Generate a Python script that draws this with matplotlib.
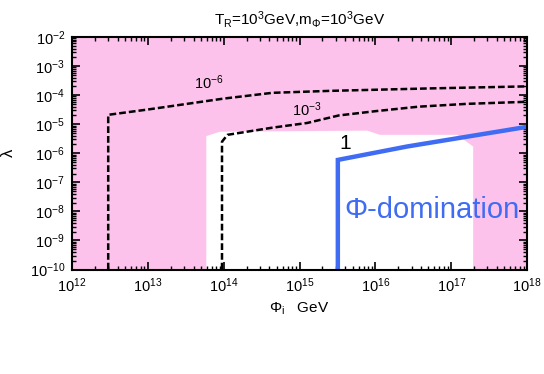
import numpy as np
import matplotlib
matplotlib.use('Agg')
import matplotlib.pyplot as plt
from matplotlib.ticker import LogLocator, FixedLocator, NullFormatter

plt.rcParams['font.family'] = ['Liberation Sans', 'DejaVu Sans']
plt.rcParams['mathtext.fontset'] = 'custom'
plt.rcParams['mathtext.rm'] = 'Liberation Sans'
plt.rcParams['mathtext.it'] = 'Liberation Sans:italic'
plt.rcParams['mathtext.default'] = 'regular'

# allowed (white) region, everything else is shaded
white_x = [5.9e13, 5.9e13, 8.9e13, 7.8e15, 1.15e16, 1.2e17, 1.95e17, 1.95e17]
white_y = [1e-10, 3.9e-6, 5.5e-6, 6.0e-6, 4.3e-6, 4.3e-6, 1.7e-6, 1e-10]

# contour 10^-6
c6_x = [3.0e12, 3.0e12, 1e13, 1e14, 4.4e14, 2.5e15, 5.2e16, 1e18]
c6_y = [1e-10, 2.1e-5, 3.2e-5, 7.6e-5, 1.2e-4, 1.4e-4, 1.7e-4, 2.0e-4]

# contour 10^-3
c3_x = [9.5e13, 9.5e13, 1.12e14, 4.4e14, 1.26e15, 3.3e15, 1e16, 3.7e16, 1.6e17, 1e18]
c3_y = [1e-10, 2.5e-6, 4.3e-6, 7.6e-6, 1.1e-5, 2.0e-5, 2.8e-5, 4.0e-5, 5.0e-5, 5.9e-5]

# contour 1 (Phi domination boundary)
c1_x = [3.2e15, 3.2e15, 2.6e16, 1e18]
c1_y = [1e-10, 5.9e-7, 1.7e-6, 8.1e-6]

pink = '#fcc2eb'
blue = '#3f6cf2'

fig = plt.figure(figsize=(5.44, 3.74), dpi=100)
ax = fig.add_axes([0.1324, 0.2794, 0.8364, 0.6217])
ax.set_xscale('log')
ax.set_yscale('log')
ax.set_xlim(1e12, 1e18)
ax.set_ylim(1e-10, 1e-2)

ax.set_facecolor(pink)
ax.fill(white_x, white_y, color='white', lw=0, zorder=1)

ax.plot(c6_x, c6_y, color='black', lw=1.8, ls=(0, (2.7, 1.2)), zorder=3)
ax.plot(c3_x, c3_y, color='black', lw=1.8, ls=(0, (2.7, 1.2)), zorder=3)
ax.plot(c1_x, c1_y, color=blue, lw=3.2, zorder=4, solid_joinstyle='miter')

ax.text(6.3e13, 2.6e-4, r'$10^{-6}$', fontsize=10.5, ha='center', va='center')
ax.text(1.23e15, 3.1e-5, r'$10^{-3}$', fontsize=10.5, ha='center', va='center')
ax.text(4.0e15, 2.2e-6, '1', fontsize=15, ha='center', va='center')
ax.text(5.6e16, 1.1e-8, '\u03a6-domination', fontsize=21, color=blue,
        ha='center', va='center')

ax.set_title(r'T$_R$=10$^3$GeV,m$_\Phi$=10$^3$GeV', fontsize=11, pad=9)
ax.set_xlabel(r'$\Phi_i$   GeV', fontsize=11, labelpad=4)
ax.set_ylabel('\u03bb', fontsize=12, labelpad=10)

ax.xaxis.set_major_locator(FixedLocator([10.0**k for k in range(12, 19)]))
ax.yaxis.set_major_locator(FixedLocator([10.0**k for k in range(-10, -1)]))
ax.xaxis.set_minor_locator(LogLocator(base=10, subs=np.arange(2, 10), numticks=20))
ax.yaxis.set_minor_locator(LogLocator(base=10, subs=np.arange(2, 10), numticks=20))
ax.xaxis.set_minor_formatter(NullFormatter())
ax.yaxis.set_minor_formatter(NullFormatter())
ax.set_xticklabels([r'$10^{%d}$' % k for k in range(12, 19)])
ax.set_yticklabels([r'$10^{%d}$' % k for k in range(-10, -1)])

ax.tick_params(which='both', direction='in', top=True, right=True, labelsize=10.5)
ax.tick_params(which='major', length=6, width=1.2, pad=5)
ax.tick_params(which='minor', length=3, width=1.0)
for s in ax.spines.values():
    s.set_linewidth(1.5)
    s.set_zorder(5)

fig.savefig('out.png', dpi=100)
